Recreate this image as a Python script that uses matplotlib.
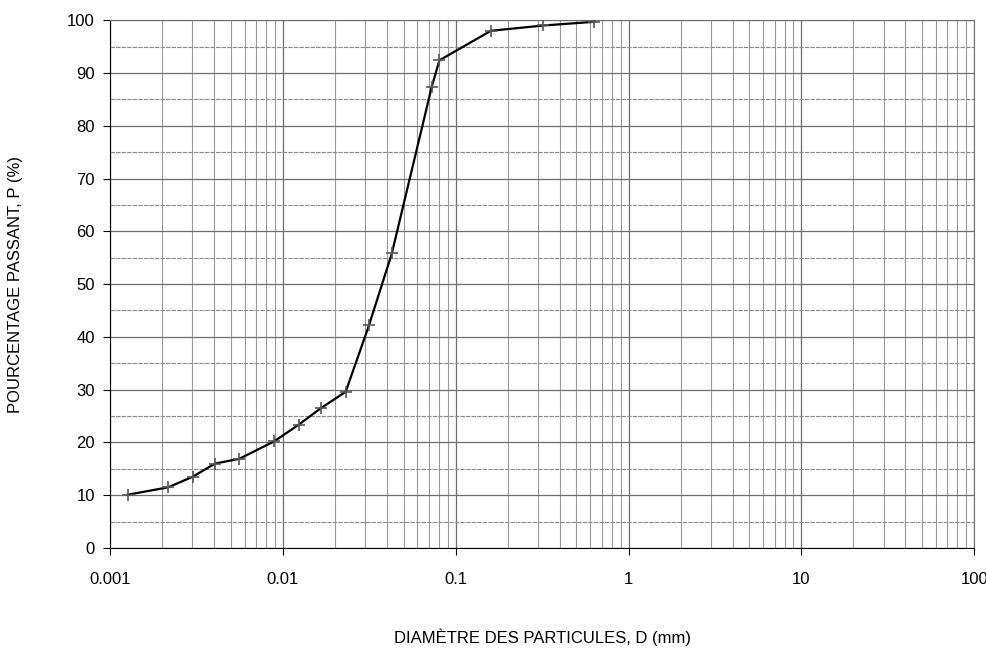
import matplotlib.pyplot as plt
from matplotlib.ticker import LogLocator, MultipleLocator, FixedFormatter, FixedLocator

# ---------------------------------------------------------------
# DATA
# ---------------------------------------------------------------
diam = [0.00127, 0.00217, 0.00301, 0.00405, 0.0056, 0.0089, 0.0124, 0.0166,
        0.0231, 0.0315, 0.0427, 0.0727, 0.0805, 0.160, 0.322, 0.635]
passing = [10.1, 11.5, 13.5, 16.0, 16.9, 20.2, 23.4, 26.5,
           29.6, 42.2, 55.8, 87.4, 92.4, 98.0, 99.0, 99.7]

xticks = [0.001, 0.01, 0.1, 1, 10, 100]
xticklabels = ["0.001", "0.01", "0.1", "1", "10", "100"]

# ---------------------------------------------------------------
# PLOT
# ---------------------------------------------------------------
plt.rcParams['font.family'] = ['Liberation Sans', 'DejaVu Sans']

fig = plt.figure(figsize=(9.86, 6.52), dpi=100)
ax = fig.add_axes([0.1116, 0.1595, 0.8764, 0.8095])

ax.plot(diam, passing, color="k", lw=1.6, marker="+", markersize=9,
        markeredgecolor="#555555", markeredgewidth=1.2, zorder=3)

ax.set_xscale("log")
ax.set_xlim(0.001, 100)
ax.set_ylim(0, 100)

ax.xaxis.set_major_locator(FixedLocator(xticks))
ax.xaxis.set_major_formatter(FixedFormatter(xticklabels))
ax.xaxis.set_minor_locator(LogLocator(base=10, subs=range(2, 10), numticks=50))
ax.yaxis.set_major_locator(MultipleLocator(10))
ax.yaxis.set_minor_locator(MultipleLocator(5))

ax.grid(which="major", axis="both", color="#6e6e6e", lw=0.9)
ax.grid(which="minor", axis="y", color="#8a8a8a", lw=0.8, linestyle=(0, (4, 1)))
ax.grid(which="minor", axis="x", color="#9a9a9a", lw=0.8)
ax.set_axisbelow(True)

ax.tick_params(which="major", direction="out", length=5, labelsize=12, pad=12, color="k")
ax.tick_params(axis="y", pad=6)
ax.tick_params(which="minor", length=0)

for s in ["left", "bottom"]:
    ax.spines[s].set_color("k")
for s in ["top", "right"]:
    ax.spines[s].set_color("#6e6e6e")

ax.set_xlabel("DIAMÈTRE DES PARTICULES, D (mm)", fontsize=12, labelpad=30)
ax.set_ylabel("POURCENTAGE PASSANT, P (%)", fontsize=12, labelpad=32)

plt.savefig("out.png", dpi=100)
